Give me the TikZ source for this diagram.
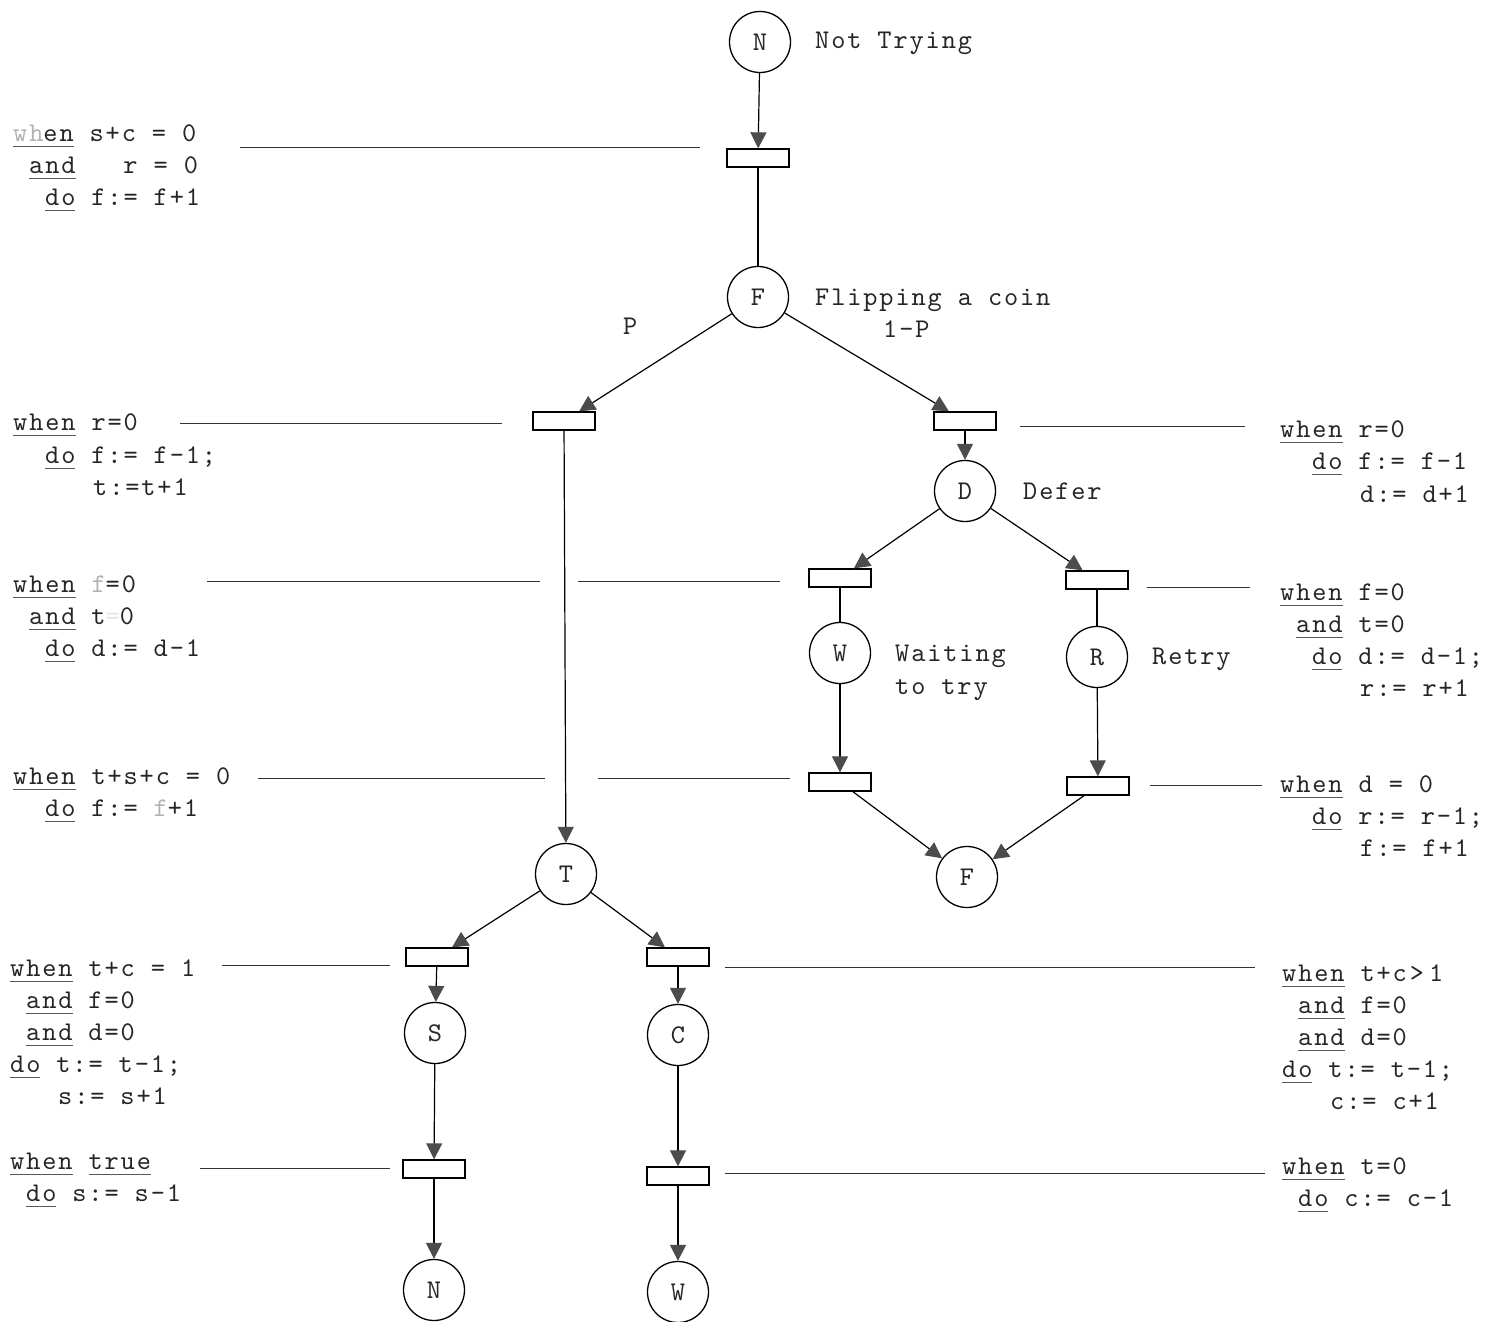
\documentclass[tikz,border=0pt]{standalone}
\usepackage{fontspec}
\newfontfamily\tw{lmmono10-regular.otf}[LetterSpace=7]
\usetikzlibrary{arrows.meta}
\newcommand\tfont{\tw\fontsize{27}{30}\selectfont\fontdimen2\font=16pt\relax}
\newcommand\kw[1]{\setbox0\hbox{#1}\rlap{\textcolor{black!65}{\rule[-6pt]{\wd0}{1pt}}}\box0\relax}
\newcommand\fnt[1]{\textcolor{black!30}{#1}}
\tikzset{
  place/.style={circle,draw,line width=1.3pt,minimum size=61pt,inner sep=0pt,font=\tfont,text=black!85},
  trans/.style={rectangle,draw,line width=1.3pt,minimum width=62pt,minimum height=18pt,inner sep=0pt},
  arc/.style={line width=1.2pt,-{Triangle[length=16pt,width=16pt,color=black!70]}},
  plainarc/.style={line width=1.2pt},
  note/.style={line width=1pt,black!80},
  txt/.style={font=\tfont,inner sep=0pt,anchor=base west,text=black!85},
}
\begin{document}
\begin{tikzpicture}[x=1pt,y=-1pt]
\useasboundingbox (0,0) rectangle (1489,1322);
% places
\node[place] (N1) at (760,42) {N};
\node[place] (F1) at (758,297) {F};
\node[place] (D) at (965,491) {D};
\node[place] (W) at (840,653) {W};
\node[place] (R) at (1097,657) {R};
\node[place] (F2) at (967,877) {F};
\node[place] (T) at (566,874) {T};
\node[place] (S) at (435,1033) {S};
\node[place] (C) at (678,1035) {C};
\node[place] (N2) at (434,1290) {N};
\node[place] (W2) at (678,1292) {W};
% transitions
\node[trans] (t1) at (758,158) {};
\node[trans] (tP) at (564,421) {};
\node[trans] (tD) at (965,421) {};
\node[trans] (tW) at (840,578) {};
\node[trans] (tR) at (1097,580) {};
\node[trans] (tW2) at (840,782) {};
\node[trans] (tR2) at (1098,786) {};
\node[trans] (tS) at (437,957) {};
\node[trans] (tC) at (678,957) {};
\node[trans] (tS2) at (434,1169) {};
\node[trans] (tC2) at (678,1176) {};
% arcs
\draw[arc] (N1) -- (t1);
\draw[plainarc] (t1) -- (F1);
\draw[arc] (F1) -- (tP);
\draw[arc] (F1) -- (tD);
\draw[arc] (tP) -- (T);
\draw[arc] (tD) -- (D);
\draw[arc] (D) -- (tW);
\draw[arc] (D) -- (tR);
\draw[plainarc] (tW) -- (W);
\draw[plainarc] (tR) -- (R);
\draw[arc] (W) -- (tW2);
\draw[arc] (R) -- (tR2);
\draw[arc] (tW2) -- (F2);
\draw[arc] (tR2) -- (F2);
\draw[arc] (T) -- (tS);
\draw[arc] (T) -- (tC);
\draw[arc] (tS) -- (S);
\draw[arc] (tC) -- (C);
\draw[arc] (S) -- (tS2);
\draw[arc] (C) -- (tC2);
\draw[arc] (tS2) -- (N2);
\draw[arc] (tC2) -- (W2);
% place labels
\node[txt] (lN1) at (815,49) {Not Trying};
\node[txt] (lF1) at (815,305) {Flipping a coin};
\node[txt] (lP) at (623,334) {P};
\node[txt] (l1P) at (883,337) {1-P};
\node[txt] (lD) at (1023,499) {Defer};
\node[txt] (lW1) at (895,661) {Waiting};
\node[txt] (lW2) at (895,694) {to try};
\node[txt] (lR) at (1152,664) {Retry};
% left guard texts
\node[txt] (A1) at (13,141) {\kw{\fnt{wh}en} s+c = 0};
\node[txt] (A2) at (29,173) {\kw{and}~~~r = 0};
\node[txt] (A3) at (45,205) {\kw{do} f:= f+1};
\node[txt] (B1) at (13,430) {\kw{when} r=0};
\node[txt] (B2) at (45,463) {\kw{do} f:= f-1;};
\node[txt] (B3) at (93,495) {t:=t+1};
\node[txt] (C1) at (13,592) {\kw{when} \fnt{f}=0};
\node[txt] (C2) at (29,624) {\kw{and} t\textcolor{black!10}{=}0};
\node[txt] (C3) at (45,656) {\kw{do} d:= d-1};
\node[txt] (D1) at (13,784) {\kw{when} t+s+c = 0};
\node[txt] (D2) at (45,816) {\kw{do} f:= \fnt{f}+1};
\node[txt] (E1) at (10,976) {\kw{when} t+c = 1};
\node[txt] (E2) at (26,1008) {\kw{and} f=0};
\node[txt] (E3) at (26,1040) {\kw{and} d=0};
\node[txt] (E4) at (10,1072) {\kw{do} t:= t-1;};
\node[txt] (E5) at (58,1104) {s:= s+1};
\node[txt] (F1t) at (10,1169) {\kw{when} \kw{true}};
\node[txt] (F2t) at (26,1201) {\kw{do} s:= s-1};
% right guard texts
\node[txt] (G1) at (1280,437) {\kw{when} r=0};
\node[txt] (G2) at (1312,469) {\kw{do} f:= f-1};
\node[txt] (G3) at (1360,502) {d:= d+1};
\node[txt] (H1) at (1280,600) {\kw{when} f=0};
\node[txt] (H2) at (1296,632) {\kw{and} t=0};
\node[txt] (H3) at (1312,664) {\kw{do} d:= d-1;};
\node[txt] (H4) at (1360,696) {r:= r+1};
\node[txt] (I1) at (1280,792) {\kw{when} d = 0};
\node[txt] (I2) at (1312,824) {\kw{do} r:= r-1;};
\node[txt] (I3) at (1360,856) {f:= f+1};
\node[txt] (J1) at (1282,981) {\kw{when} t+c\kern3pt>\kern5pt1};
\node[txt] (J2) at (1298,1013) {\kw{and} f=0};
\node[txt] (J3) at (1298,1045) {\kw{and} d=0};
\node[txt] (J4) at (1282,1077) {\kw{do} t:= t-1;};
\node[txt] (J5) at (1330,1109) {c:= c+1};
\node[txt] (K1) at (1282,1174) {\kw{when} t=0};
\node[txt] (K2) at (1298,1206) {\kw{do} c:= c-1};
% guard lines
\coordinate (a1) at (240,147); \coordinate (a2) at (700,147);
\draw[note] (a1) -- (a2);
\coordinate (b1) at (180,423); \coordinate (b2) at (502,423);
\draw[note] (b1) -- (b2);
\coordinate (g1) at (1020,426); \coordinate (g2) at (1245,426);
\draw[note] (g1) -- (g2);
\coordinate (c1) at (207,581); \coordinate (c2) at (540,581);
\coordinate (c3) at (578,581); \coordinate (c4) at (780,581);
\draw[note] (c1) -- (c2);
\draw[note] (c3) -- (c4);
\coordinate (h1) at (1147,587); \coordinate (h2) at (1250,587);
\draw[note] (h1) -- (h2);
\coordinate (d1) at (258,778); \coordinate (d2) at (545,778);
\coordinate (d3) at (598,778); \coordinate (d4) at (790,778);
\draw[note] (d1) -- (d2);
\draw[note] (d3) -- (d4);
\coordinate (i1) at (1150,785); \coordinate (i2) at (1262,785);
\draw[note] (i1) -- (i2);
\coordinate (e1) at (222,965); \coordinate (e2) at (390,965);
\draw[note] (e1) -- (e2);
\coordinate (j1) at (725,967); \coordinate (j2) at (1255,967);
\draw[note] (j1) -- (j2);
\coordinate (f1) at (200,1168); \coordinate (f2) at (390,1168);
\draw[note] (f1) -- (f2);
\coordinate (k1) at (725,1173); \coordinate (k2) at (1265,1173);
\draw[note] (k1) -- (k2);
\end{tikzpicture}
\end{document}
